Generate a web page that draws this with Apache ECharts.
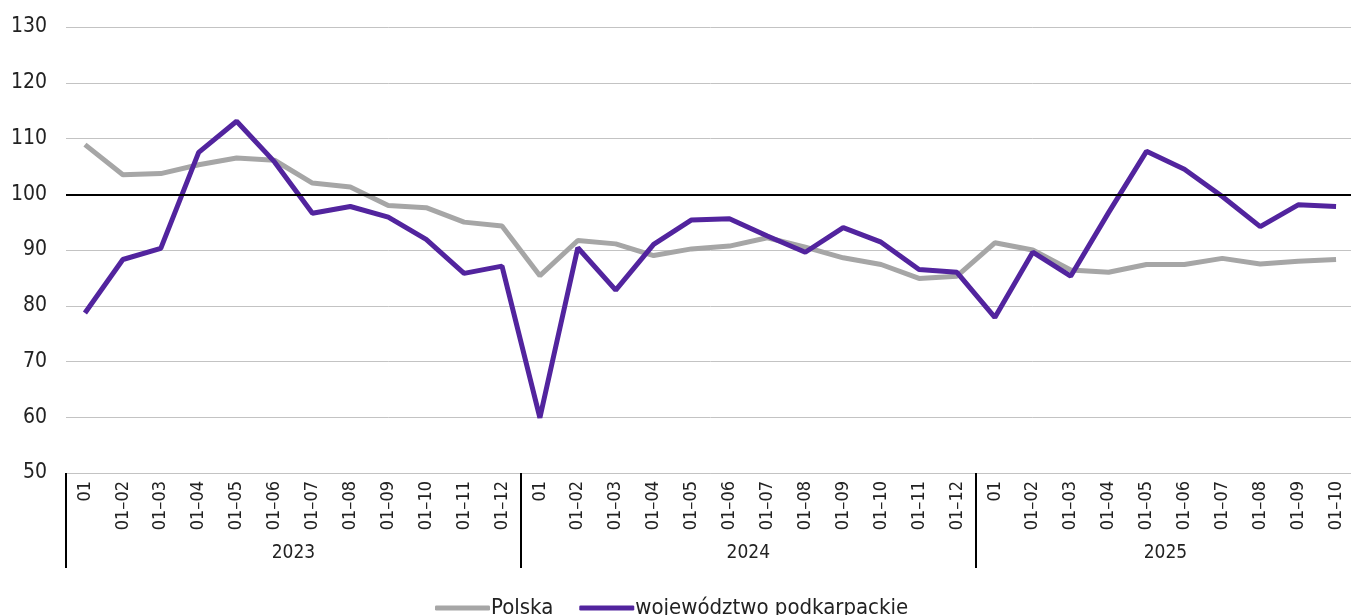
<!DOCTYPE html>
<html>
<head>
<meta charset="utf-8">
<script src="https://cdn.jsdelivr.net/npm/echarts@6/dist/echarts.min.js"></script>
<style>
  html, body { margin: 0; padding: 0; background: #fff; overflow: hidden; }
  #chart { width: 1355px; height: 615px; }
</style>
</head>
<body>
<div id="chart"></div>
<script>
// okresy narastające, grupowane latami
var years = ['2023', '2024', '2025'];
var monthsPerYear = [12, 12, 10];
var periodLabels = ['01', '01–02', '01–03', '01–04', '01–05', '01–06',
                    '01–07', '01–08', '01–09', '01–10', '01–11', '01–12'];

var polska = [108.9, 103.5, 103.7, 105.3, 106.5, 106.1, 102.0, 101.3, 98.0, 97.6, 95.0, 94.3,
              85.4, 91.7, 91.1, 89.0, 90.2, 90.7, 92.2, 90.5, 88.6, 87.4, 84.9, 85.3,
              91.3, 90.0, 86.4, 86.0, 87.4, 87.4, 88.5, 87.5, 88.0, 88.3];
var podkarpackie = [78.7, 88.3, 90.3, 107.5, 113.1, 105.8, 96.6, 97.8, 95.9, 91.9, 85.8, 87.1,
                    59.9, 90.4, 82.8, 91.0, 95.4, 95.6, 92.5, 89.6, 94.0, 91.4, 86.5, 86.0,
                    77.9, 89.6, 85.3, 96.7, 107.7, 104.5, 99.6, 94.2, 98.1, 97.8];

var fontName = "'DejaVu Sans Condensed', 'Liberation Sans Narrow', sans-serif";

// kategorie osi: etykieta okresu + rok
var cats = [];
var yearCats = [];
var groupStarts = [];
var idx = 0;
years.forEach(function (y, g) {
    groupStarts.push(idx);
    var mid = idx + Math.ceil(monthsPerYear[g] / 2);
    for (var i = 0; i < monthsPerYear[g]; i++) {
        cats.push(periodLabels[i]);
        yearCats.push(idx === mid ? y : '');
        idx++;
    }
});

var myChart = echarts.init(document.getElementById('chart'));
var option = {
    backgroundColor: '#ffffff',
    animation: false,
    textStyle: { fontFamily: fontName },
    grid: { left: 66, top: 27, right: 0, height: 446 },
    legend: {
        left: 430,
        top: 592,
        itemWidth: 55,
        itemHeight: 5,
        itemGap: 26,
        icon: 'roundRect',
        textStyle: { fontSize: 22, color: '#222', fontFamily: fontName, padding: [0, 0, 0, -4] },
        data: ['Polska', 'województwo podkarpackie']
    },
    xAxis: [{
        type: 'category',
        data: cats,
        boundaryGap: true,
        axisLine: { show: true, lineStyle: { color: '#c3c3c3', width: 1 } },
        axisTick: { show: false },
        axisLabel: {
            interval: 0,
            rotate: 90,
            margin: 8,
            fontSize: 18,
            color: '#222',
            fontFamily: fontName
        },
        splitLine: { show: false }
    }, {
        type: 'category',
        data: yearCats,
        position: 'bottom',
        boundaryGap: true,
        axisLine: { show: false },
        axisTick: {
            show: true,
            length: 95,
            interval: function (i) { return groupStarts.indexOf(i) >= 0; },
            lineStyle: { color: '#000', width: 2 }
        },
        axisLabel: {
            interval: 0,
            margin: 71,
            fontSize: 19,
            color: '#222',
            fontFamily: fontName,
            formatter: function (v) { return v ? '{y|' + v + '}' : ''; },
            rich: { y: { fontSize: 19, color: '#222', fontFamily: fontName, padding: [0, 38, 0, 0] } }
        }
    }],
    yAxis: {
        type: 'value',
        min: 50,
        max: 130,
        interval: 10,
        axisLine: { show: false },
        axisTick: { show: false },
        axisLabel: { fontSize: 21, color: '#222', margin: 19, fontFamily: fontName },
        splitLine: { lineStyle: { color: '#c3c3c3', width: 1 } }
    },
    series: [{
        name: 'Polska',
        type: 'line',
        data: polska,
        symbol: 'none',
        lineStyle: { color: '#a6a6a6', width: 5 },
        itemStyle: { color: '#a6a6a6' },
        markLine: {
            silent: true,
            symbol: 'none',
            label: { show: false },
            lineStyle: { color: '#000', width: 2, type: 'solid' },
            data: [{ yAxis: 100 }]
        },
        z: 3
    }, {
        name: 'województwo podkarpackie',
        type: 'line',
        data: podkarpackie,
        symbol: 'none',
        lineStyle: { color: '#52249e', width: 5 },
        itemStyle: { color: '#52249e' },
        z: 4
    }]
};
myChart.setOption(option);
</script>
</body>
</html>
